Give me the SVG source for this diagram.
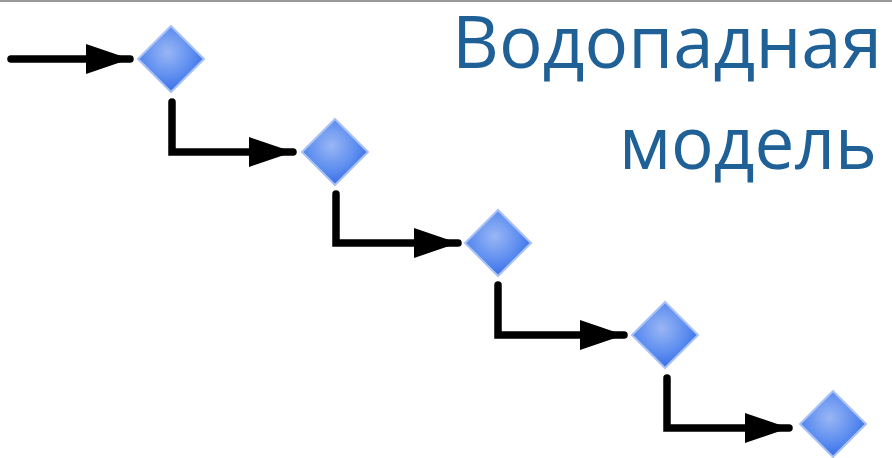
<svg xmlns="http://www.w3.org/2000/svg" width="892" height="458" viewBox="0 0 892 458">
<defs>
<radialGradient id="dg" cx="0.45" cy="0.4" r="0.6">
<stop offset="0" stop-color="#9ab6f4"/>
<stop offset="0.6" stop-color="#5f8ff0"/>
<stop offset="1" stop-color="#3a6ee6"/>
</radialGradient>
<marker id="ah" viewBox="0 0 44 30" refX="44" refY="15" markerWidth="44" markerHeight="30" markerUnits="userSpaceOnUse" orient="auto">
<path d="M0,0 L44,15 L0,30 Z" fill="#000"/>
</marker>
<path id="dia" d="M0,-33 L33,0 L0,33 L-33,0 Z"/>
</defs>
<style>
.conn{fill:none;stroke:#000;stroke-width:7.5;stroke-linejoin:miter;stroke-linecap:round}
.node use{fill:url(#dg);stroke:#a9c2f6;stroke-width:2}
.title{font-family:"Open Sans","Liberation Sans",sans-serif;font-size:73px;fill:#1f6096}
</style>
<rect x="0" y="0" width="892" height="458" fill="#fff"/>
<rect x="0" y="0" width="892" height="2" fill="#9a9a9a"/>
<g id="title">
<text class="title" x="452" y="68" textLength="430" lengthAdjust="spacingAndGlyphs">Водопадная</text>
<text class="title" x="619" y="169" textLength="258" lengthAdjust="spacingAndGlyphs">модель</text>
</g>
<g id="connectors">
<path class="conn" d="M11,59 L130,59" marker-end="url(#ah)"/>
<path class="conn" d="M172,102 L172,152 L293,152" marker-end="url(#ah)"/>
<path class="conn" d="M336,194 L336,243 L458,243" marker-end="url(#ah)"/>
<path class="conn" d="M498,285 L498,335 L624,335" marker-end="url(#ah)"/>
<path class="conn" d="M667,378 L667,428 L789,428" marker-end="url(#ah)"/>
</g>
<g id="node1" class="node"><use href="#dia" x="171" y="59"/></g>
<g id="node2" class="node"><use href="#dia" x="335" y="152"/></g>
<g id="node3" class="node"><use href="#dia" x="498" y="243"/></g>
<g id="node4" class="node"><use href="#dia" x="665" y="335"/></g>
<g id="node5" class="node"><use href="#dia" x="833" y="424"/></g>
</svg>
